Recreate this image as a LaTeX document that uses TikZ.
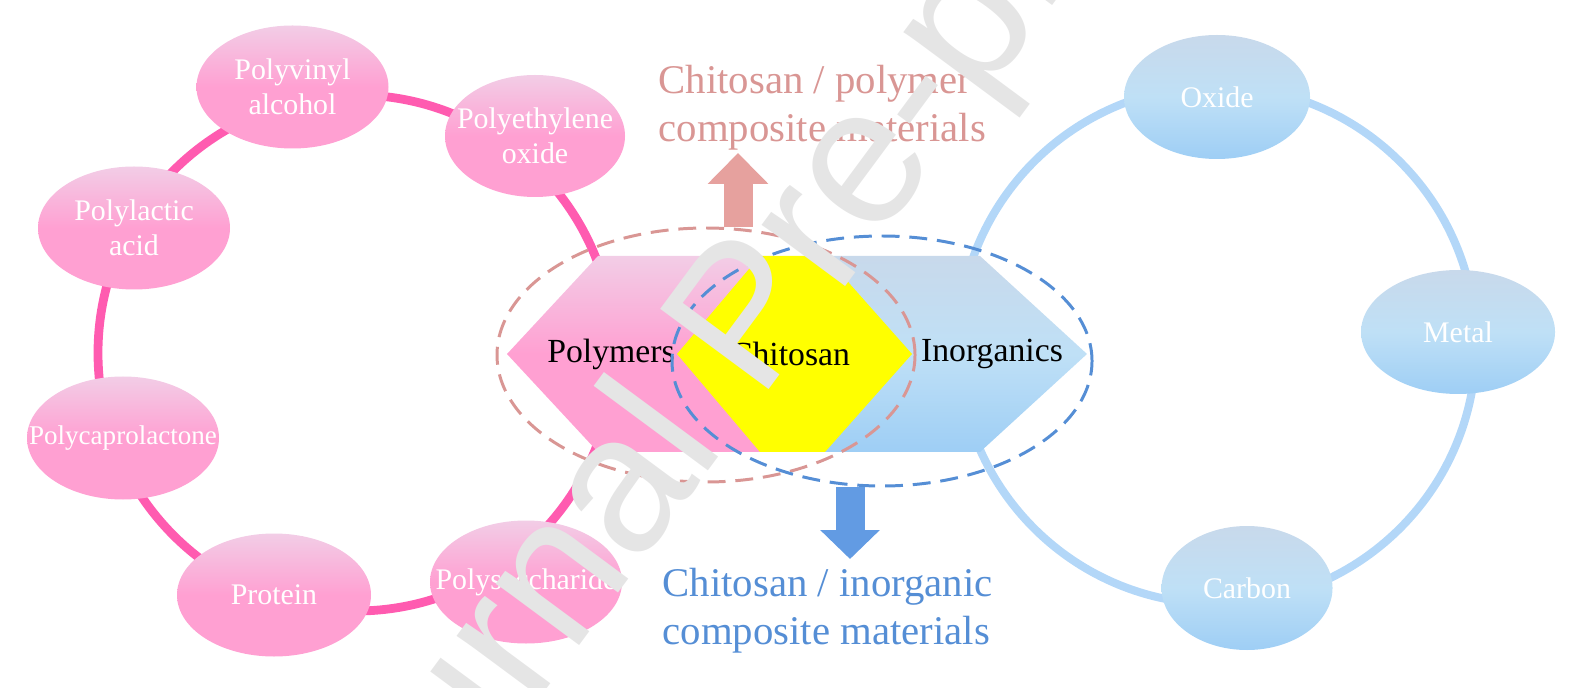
\documentclass[tikz,border=0pt]{standalone}
\usepackage{fontspec}
\setmainfont{Liberation Serif}
\newfontfamily\markfont{Liberation Sans}
\usetikzlibrary{shapes.geometric, arrows.meta}

\definecolor{pinkring}{HTML}{FF5BB0}
\definecolor{pinktop}{HTML}{F2CDE6}
\definecolor{pinkbot}{HTML}{FFA0D2}
\definecolor{bluering}{HTML}{B3D7F8}
\definecolor{bluetop}{HTML}{C8D9EB}
\definecolor{bluemid}{HTML}{BFE0F6}
\definecolor{bluebot}{HTML}{9ECEF5}
\definecolor{rose}{HTML}{D99694}
\definecolor{roselight}{HTML}{E6A19E}
\definecolor{skyblue}{HTML}{558ED5}
\definecolor{skyarrow}{HTML}{629BE3}
\definecolor{chitoyellow}{HTML}{FFFF00}
\definecolor{markgray}{HTML}{E5E5E5}

\begin{document}
\begin{tikzpicture}[
    pinkitem/.style={ellipse, inner xsep=-1cm, inner ysep=0pt, minimum width=1.92cm, minimum height=1.23cm, top color=pinktop, bottom color=pinkbot, middle color=pinkbot, text=white, align=center, font=\fontsize{8.5}{10}\selectfont},
    blueitem/.style={ellipse, inner xsep=-1cm, inner ysep=0pt, minimum width=1.92cm, minimum height=1.24cm, top color=bluetop, bottom color=bluebot, middle color=bluemid, text=white, align=center, font=\fontsize{8.5}{10}\selectfont},
    hexlabel/.style={inner sep=0pt, font=\fontsize{9.6}{11}\selectfont},
    setring/.style={ellipse, inner sep=0pt, line width=0.85pt, dash pattern=on 5.1pt off 2.8pt},
    sidetext/.style={anchor=north west, align=left, inner sep=0pt, font=\fontsize{11.6}{13.4}\selectfont},
    upblock/.style={roselight, line width=0.29cm, -{Triangle[width=0.59cm, length=0.31cm]}},
    downblock/.style={skyarrow, line width=0.29cm, -{Triangle[width=0.58cm, length=0.29cm]}}
]
    \useasboundingbox (0,0) rectangle (15.8,6.87);

    % Rings
    \draw[pinkring, line width=2.5pt] (3.56,3.34) circle (2.58);
    \draw[bluering, line width=2.3pt] (12.17,3.42) circle (2.59);

    % Polymer items
    \node[pinkitem] (pva) at (2.925,6.0) {Polyvinyl\\alcohol};
    \node[pinkitem, minimum width=1.80cm, minimum height=1.22cm] (peo) at (5.35,5.51) {Polyethylene\\oxide};
    \node[pinkitem] (pla) at (1.34,4.59) {Polylactic\\acid};
    \node[pinkitem, font=\fontsize{7.7}{9}\selectfont] (pcl) at (1.23,2.49) {Polycaprolactone};
    \node[pinkitem, minimum width=1.94cm] (prot) at (2.74,0.92) {Protein};
    \node[pinkitem] (ps) at (5.26,1.05) {Polysaccharide};

    % Inorganic items
    \node[blueitem, minimum width=1.86cm] (oxide) at (12.17,5.90) {Oxide};
    \node[blueitem, minimum width=1.94cm] (metal) at (14.58,3.55) {Metal};
    \node[blueitem, minimum width=1.71cm] (carbon) at (12.47,0.99) {Carbon};

    % Hexagons
    \shade[top color=pinktop, bottom color=pinkbot, middle color=pinkbot]
        (5.07,3.33) -- (5.98,4.31) -- (7.60,4.31) -- (8.50,3.33) -- (7.60,2.35) -- (5.98,2.35) -- cycle;
    \shade[top color=bluetop, bottom color=bluebot, middle color=bluemid]
        (7.40,3.33) -- (8.25,4.31) -- (9.80,4.31) -- (10.87,3.33) -- (9.80,2.35) -- (8.25,2.35) -- cycle;
    \fill[chitoyellow]
        (6.77,3.33) -- (7.60,4.31) -- (8.25,4.31) -- (9.12,3.33) -- (8.25,2.35) -- (7.60,2.35) -- cycle;

    \node[hexlabel] (polymers) at (6.11,3.33) {Polymers};
    \node[hexlabel] (chitosan) at (7.90,3.33) {Chitosan};
    \node[hexlabel] (inorganics) at (9.92,3.33) {Inorganics};

    % Composite sets
    \node[setring, draw=rose, minimum width=4.18cm, minimum height=2.54cm] (polyset) at (7.06,3.32) {};
    \node[setring, draw=skyblue, minimum width=4.20cm, minimum height=2.50cm] (inorgset) at (8.82,3.26) {};

    % Results
    \node[sidetext, rose] (polytxt) at (6.58,6.22) {Chitosan / polymer\\composite materials};
    \node[sidetext, skyblue] (inorgtxt) at (6.62,1.19) {Chitosan / inorganic\\composite materials};

    \coordinate (uptip) at (7.38,5.34);
    \coordinate (downtip) at (8.50,1.28);
    \draw[upblock] (uptip |- polyset.north) -- (uptip);
    \draw[downblock] (downtip |- inorgset.south) -- (downtip);

    % Watermark
    \node[markgray, inner sep=0pt, rotate=53.5, anchor=base, font=\markfont\fontsize{55.8}{56}\selectfont] (mark) at (7.95,3.33) {Journal Pre-proof};
\end{tikzpicture}
\end{document}
